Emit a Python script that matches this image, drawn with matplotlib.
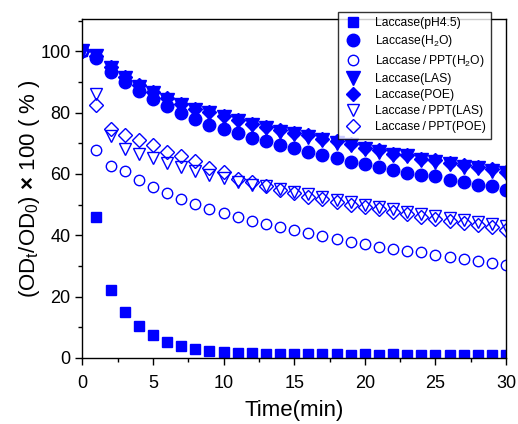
import matplotlib
matplotlib.use("Agg")
import matplotlib.pyplot as plt
from matplotlib.ticker import MultipleLocator

plt.rcParams['font.family'] = ['Liberation Sans', 'DejaVu Sans']
plt.rcParams['mathtext.fontset'] = 'custom'
plt.rcParams['mathtext.rm'] = 'Liberation Sans'
plt.rcParams['mathtext.it'] = 'Liberation Sans:italic'
plt.rcParams['mathtext.bf'] = 'Liberation Sans:bold'

time = list(range(0, 31))

ph45 = [100, 46.1, 22.2, 15.0, 10.4, 7.4, 5.3, 4.0, 2.8, 2.2, 1.9, 1.6, 1.5, 1.3, 1.2,
        1.1, 1.1, 1.1, 1.1, 1.0, 1.1, 1.0, 1.1, 1.0, 1.0, 1.0, 1.0, 1.0, 0.9, 1.0, 1.0]
h2o = [100, 97.8, 93.4, 89.9, 87.1, 84.4, 82.0, 79.8, 77.9, 76.1, 74.8, 73.3, 71.8, 70.6,
       69.5, 68.4, 67.3, 66.2, 65.1, 64.0, 63.3, 62.4, 61.3, 60.2, 59.7, 59.2, 58.1, 57.5,
       56.4, 55.9, 54.8]
ppt_h2o = [100, 67.9, 62.7, 60.8, 57.9, 55.7, 53.7, 51.8, 50.2, 48.5, 47.2, 46.0, 44.8, 43.7,
           42.6, 41.8, 40.7, 39.8, 38.8, 37.9, 37.2, 36.3, 35.6, 34.9, 34.4, 33.6, 32.8, 32.2,
           31.7, 30.9, 30.3]
las = [100, 98.3, 94.5, 91.2, 88.5, 86.3, 84.2, 82.5, 80.9, 79.8, 78.4, 77.1, 76.0, 74.9,
       73.8, 73.1, 72.2, 71.1, 70.2, 69.5, 68.2, 67.3, 66.2, 65.7, 64.6, 64.0, 63.3, 62.4,
       61.9, 61.1, 60.2]
poe = [100, 98.6, 94.9, 91.6, 88.9, 86.7, 84.6, 82.9, 81.3, 80.2, 78.8, 77.5, 76.4, 75.3,
       74.2, 73.5, 72.6, 71.5, 70.6, 69.9, 68.6, 67.7, 66.6, 66.1, 65.0, 64.4, 63.7, 62.8,
       62.3, 61.5, 60.6]
ppt_las = [100, 86.0, 72.3, 68.1, 66.4, 65.1, 63.5, 62.4, 61.1, 59.7, 58.6, 57.5, 56.4, 55.9,
           55.0, 54.2, 53.3, 52.4, 51.5, 50.7, 50.0, 49.2, 48.4, 47.7, 47.0, 46.3, 45.6, 45.0,
           44.3, 43.7, 43.1]
ppt_poe = [100, 82.5, 74.7, 72.8, 70.9, 69.3, 67.3, 65.7, 64.1, 61.9, 60.5, 58.4, 57.3, 55.9,
           54.8, 53.7, 52.6, 51.8, 50.7, 49.9, 49.1, 48.5, 47.7, 46.8, 46.1, 45.4, 44.8, 43.9,
           43.4, 42.6, 41.8]

labels = ['Laccase(pH4.5)', r'Laccase(H$_2$O)', 'Laccase\u2009/\u2009PPT(H$_2$O)', 'Laccase(LAS)',
          'Laccase(POE)', 'Laccase\u2009/\u2009PPT(LAS)', 'Laccase\u2009/\u2009PPT(POE)']

fig = plt.figure(figsize=(5.18, 4.24), dpi=100)
ax = fig.add_axes([0.159, 0.156, 0.818, 0.799])

blue = '#0000ff'
ax.plot(time, ph45, 's', ms=7, color=blue, mec=blue, label=labels[0])
ax.plot(time, h2o, 'o', ms=9, color=blue, mec=blue, label=labels[1])
ax.plot(time, ppt_h2o, 'o', ms=7.5, mfc='white', mec=blue, mew=1.0, label=labels[2])
ax.plot(time, las, 'v', ms=10, color=blue, mec=blue, label=labels[3])
ax.plot(time, poe, 'D', ms=7.5, color=blue, mec=blue, label=labels[4], zorder=1.9)
ax.plot(time, ppt_las, 'v', ms=9, mfc='none', mec=blue, mew=1.0, label=labels[5])
ax.plot(time, ppt_poe, 'D', ms=7.5, mfc='none', mec=blue, mew=1.0, label=labels[6])

ax.set_xlim(0, 30)
ax.set_ylim(0, 110.5)
ax.xaxis.set_major_locator(MultipleLocator(5))
ax.xaxis.set_minor_locator(MultipleLocator(2.5))
ax.yaxis.set_major_locator(MultipleLocator(20))
ax.yaxis.set_minor_locator(MultipleLocator(10))
ax.tick_params(which='major', direction='out', length=5, width=1, labelsize=13)
ax.tick_params(axis='x', which='major', pad=7)
ax.tick_params(which='minor', direction='out', length=3, width=1)
for s in ax.spines.values():
    s.set_linewidth(1.0)

ax.set_xlabel('Time(min)', fontsize=16, labelpad=6)
ax.set_ylabel(r'(OD$_\mathrm{t}$/OD$_0$) $\mathbf{\times}$ 100 ( % )', fontsize=16, labelpad=-1)

leg = ax.legend(loc='upper left', bbox_to_anchor=(0.652, 0.972),
                bbox_transform=fig.transFigure, fontsize=8.7, frameon=True,
                fancybox=False, edgecolor='black', borderaxespad=0, handlelength=1.6,
                handletextpad=1.0, labelspacing=0.33, borderpad=0.45, markerscale=1.0)
leg.get_frame().set_linewidth(1.0)

fig.savefig('out.png', dpi=100)
